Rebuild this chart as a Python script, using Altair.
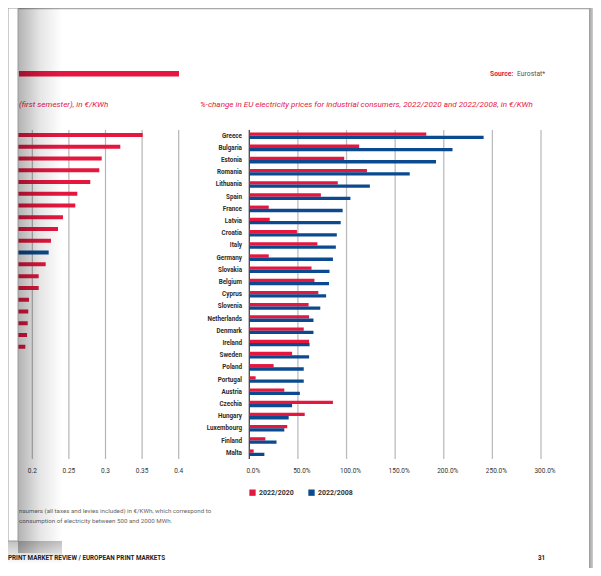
import altair as alt
import pandas as pd

# ---------------- data ----------------
countries = ["Greece", "Bulgaria", "Estonia", "Romania", "Lithuania", "Spain", "France",
             "Latvia", "Croatia", "Italy", "Germany", "Slovakia", "Belgium", "Cyprus",
             "Slovenia", "Netherlands", "Denmark", "Ireland", "Sweden", "Poland",
             "Portugal", "Austria", "Czechia", "Hungary", "Luxembourg", "Finland", "Malta"]
change_2022_2020 = [182, 113, 97.6, 121, 91, 73.6, 20, 21, 49, 70, 20, 64, 67, 71,
                    61, 61.5, 56, 61.5, 44, 25, 6.5, 36, 86, 57, 39, 16.5, 4.5]
change_2022_2008 = [241, 209, 192, 165, 124, 104, 96, 94, 90, 89, 86, 82.5, 82, 79,
                    73, 66, 66, 62, 61.5, 56, 56, 52, 44, 40.5, 36, 28, 15.5]
series = ["2022/2020", "2022/2008"]
series_colors = ["#e5173f", "#0b4a8e"]
pct_ticks = [0, 50, 100, 150, 200, 250, 300]
pct_labels = ["0.0%", "50.0%", "100.0%", "150.0%", "200.0%", "250.0%", "300.0%"]

# partially visible chart on the page underneath (prices, €/KWh)
left_prices = [0.3508, 0.3202, 0.2948, 0.2915, 0.2792, 0.2615, 0.2587, 0.2419, 0.2351,
               0.2255, 0.2224, 0.2183, 0.2087, 0.2087, 0.1955, 0.1945, 0.1937, 0.1928, 0.1905]
left_group = ["country"] * 10 + ["average"] + ["country"] * 8
price_ticks = [0.2, 0.25, 0.3, 0.35, 0.4]
price_labels = ["0.2", "0.25", "0.3", "0.35", "0.4"]

RED = series_colors[0]
BLUE = series_colors[1]
FONT = "Roboto"

# ---------------- tables ----------------
rows = []
for i, c in enumerate(countries):
    rows.append({"country": c, "idx": i, "series": series[0], "value": change_2022_2020[i]})
    rows.append({"country": c, "idx": i, "series": series[1], "value": change_2022_2008[i]})
main_df = pd.DataFrame(rows)
lab_df = pd.DataFrame({"country": countries, "idx": list(range(len(countries)))})
pct_df = pd.DataFrame({"tick": pct_ticks, "label": pct_labels,
                       "kind": ["zero"] + ["grid"] * (len(pct_ticks) - 1)})
left_df = pd.DataFrame({"idx": list(range(len(left_prices))), "price": left_prices,
                        "group": left_group})
price_df = pd.DataFrame({"tick": price_ticks, "label": price_labels})
one = pd.DataFrame({"a": [0]})

# ---------------- scales ----------------
xs_main = alt.Scale(domain=[0, 300], range=[241.3, 533], nice=False, zero=False)
ys_main = alt.Scale(domain=[0, 26], range=[127.7, 444.7], nice=False, zero=False)
xs_left = alt.Scale(domain=[0.2, 0.4], range=[24.3, 170.7], nice=False, zero=False)
ys_left = alt.Scale(domain=[0, 18], range=[127, 338.7], nice=False, zero=False)

# ---------------- main chart ----------------
main_grid = alt.Chart(pct_df).mark_rule(strokeWidth=1.3).encode(
    x=alt.X("tick:Q", scale=xs_main, axis=None),
    y=alt.value(122), y2=alt.value(451),
    color=alt.Color("kind:N", scale=alt.Scale(domain=["zero", "grid"], range=["#444444", "#bdbdbd"]), legend=None),
)
main_ticklabels = alt.Chart(pct_df).mark_text(fontSize=6.5, font=FONT, color="#333333", dx=4).encode(
    x=alt.X("tick:Q", scale=xs_main, axis=None),
    y=alt.value(463),
    text="label:N",
)
main_bars = alt.Chart(main_df).transform_calculate(
    zero="0",
    y0="datum.series == '2022/2020' ? datum.idx - 0.27 : datum.idx",
    y1="datum.series == '2022/2020' ? datum.idx : datum.idx + 0.27",
).mark_rect().encode(
    x=alt.X("value:Q", scale=xs_main, axis=None),
    x2="zero:Q",
    y=alt.Y("y0:Q", scale=ys_main, axis=None),
    y2="y1:Q",
    color=alt.Color("series:N", scale=alt.Scale(domain=series, range=series_colors),
                    legend=alt.Legend(orient="none", legendX=241, legendY=481, direction="horizontal",
                                      title=None, symbolType="square", symbolSize=40,
                                      symbolStrokeWidth=0, labelFontSize=7, labelFont=FONT,
                                      labelFontWeight="bold", labelColor="#333333",
                                      labelOffset=3, columnPadding=14, padding=0)),
)
main_labels = alt.Chart(lab_df).mark_text(align="right", baseline="middle", fontSize=6.3,
                                          font=FONT, fontWeight="bold", color="#2b2b2b").encode(
    x=alt.value(234),
    y=alt.Y("idx:Q", scale=ys_main, axis=None),
    text="country:N",
)

# ---------------- left (underlying page) chart ----------------
left_grid = alt.Chart(price_df).mark_rule(strokeWidth=1.2, color="#b5b5b5").encode(
    x=alt.X("tick:Q", scale=xs_left, axis=None),
    y=alt.value(122), y2=alt.value(451),
)
left_ticklabels = alt.Chart(price_df).mark_text(fontSize=6.5, font=FONT, color="#333333").encode(
    x=alt.X("tick:Q", scale=xs_left, axis=None),
    y=alt.value(463),
    text="label:N",
)
left_bars = alt.Chart(left_df).transform_calculate(
    zero="0", y0="datum.idx - 0.17", y1="datum.idx + 0.17"
).mark_rect(clip=True).encode(
    x=alt.X("price:Q", scale=xs_left, axis=None),
    x2="zero:Q",
    y=alt.Y("y0:Q", scale=ys_left, axis=None),
    y2="y1:Q",
    color=alt.Color("group:N", scale=alt.Scale(domain=["country", "average"], range=[RED, BLUE]), legend=None),
)


# ---------------- texts & decoration ----------------
def txt(s, x, y, size=7, color="#333333", weight="normal", style="normal", align="left"):
    return alt.Chart(one).mark_text(text=s, fontSize=size, font=FONT, color=color,
                                    fontWeight=weight, fontStyle=style, align=align,
                                    baseline="middle").encode(x=alt.value(x), y=alt.value(y))


def rect(x, x2, y, y2, **kw):
    return alt.Chart(one).mark_rect(**kw).encode(
        x=alt.value(x), x2=alt.value(x2), y=alt.value(y), y2=alt.value(y2))


title_main = txt("%-change in EU electricity prices for industrial consumers, 2022/2020 and 2022/2008, in €/KWh",
                 192, 97, size=8.1, color=RED, style="italic")
title_left = txt("(first semester), in €/KWh", 11, 97, size=8.1, color=RED, style="italic")
src1 = txt("Source:", 482, 66, size=6.8, color=RED, weight="bold")
src2 = txt("Eurostat*", 509, 66, size=6.8, color="#555555")
foot1 = txt("nsumers (all taxes and levies included) in €/KWh, which correspond to", 11, 503,
            size=6.2, color="#666666")
foot2 = txt("consumption of electricity between 500 and 2000 MWh.", 11, 513, size=6.2, color="#666666")
footer = txt("PRINT MARKET REVIEW / EUROPEAN PRINT MARKETS", 0, 550, size=6.3, color="#222222", weight="bold")
pageno = txt("31", 530, 550, size=6.3, color="#222222", weight="bold")

red_band = rect(11, 171, 63, 68.5, color=RED)
top_line = rect(10, 587, 0, 1.2, color="#a8a8a8")
right_edge = rect(581, 585, 0, 560, fill=alt.Gradient(
    gradient="linear", x1=0, x2=1, y1=0, y2=0,
    stops=[alt.GradientStop(color="#9a9a9a", offset=0), alt.GradientStop(color="#cfcfcf", offset=1)]))

shadow = rect(10, 54, 0, 545, fill=alt.Gradient(
    gradient="linear", x1=0, x2=1, y1=0, y2=0,
    stops=[alt.GradientStop(color="rgba(0,0,0,0.30)", offset=0),
           alt.GradientStop(color="rgba(0,0,0,0.10)", offset=0.5),
           alt.GradientStop(color="rgba(0,0,0,0)", offset=1)]))
shadow_bottom = rect(0, 54, 533, 556, fill=alt.Gradient(
    gradient="linear", x1=0, x2=0, y1=0, y2=1,
    stops=[alt.GradientStop(color="rgba(0,0,0,0.25)", offset=0),
           alt.GradientStop(color="rgba(0,0,0,0)", offset=1)]))
left_sheet = rect(0, 10, 0, 533, fill="#ffffff", stroke="#9a9a9a", strokeWidth=1)

chart = alt.layer(
    left_grid, main_grid,
    left_bars, main_bars,
    left_ticklabels, main_ticklabels, main_labels,
    title_main, title_left, src1, src2, foot1, foot2, footer, pageno,
    red_band, top_line, right_edge,
    shadow, shadow_bottom, left_sheet,
).resolve_scale(
    x="independent", y="independent", color="independent"
).properties(
    width=585, height=560, padding=0,
    autosize=alt.AutoSizeParams(type="none", contains="padding"),
).configure_view(strokeWidth=0)

chart.save("out.html", embed_options={"renderer": "svg", "actions": False})
